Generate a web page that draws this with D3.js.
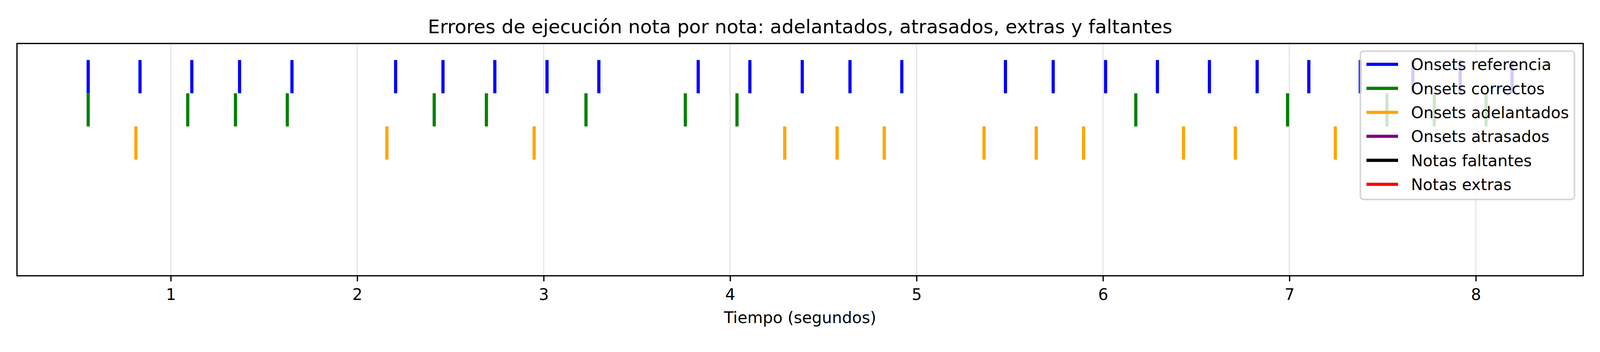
<!DOCTYPE html>
<html lang="es">
  <head>
    <meta charset="utf-8">
    <title>errores_onsets</title>
    <script src="https://d3js.org/d3.v7.min.js"></script>
    <style>
      html, body {margin:0; padding:0; background:white; overflow:hidden;}
      svg {display:block; width:100vw; height:auto;}
      svg text {font-family:"DejaVu Sans", sans-serif; fill:black;}
    </style>
  </head>
  <body>
    <script>
      // tiempos (segundos)
      const onsetsReferencia = [0.557, 0.835, 1.113, 1.369, 1.650, 2.206, 2.460, 2.738, 3.018, 3.296,
        3.829, 4.106, 4.387, 4.643, 4.921, 5.477, 5.733, 6.014, 6.292, 6.571,
        6.827, 7.104, 7.380, 7.662, 7.916, 8.194];
      const onsetsCorrectos = [0.557, 1.091, 1.347, 1.625, 2.413, 2.693, 3.227, 3.760, 4.037,
        6.176, 6.990, 7.523, 7.777, 8.055];
      const onsetsAdelantados = [0.813, 2.159, 2.949, 4.293, 4.574, 4.827, 5.362, 5.642, 5.896,
        6.432, 6.710, 7.246];
      const onsetsAtrasados = [];
      const notasFaltantes = [];
      const notasExtras = [];

      const seriesNames = ['Onsets referencia', 'Onsets correctos', 'Onsets adelantados',
        'Onsets atrasados', 'Notas faltantes', 'Notas extras'];
      const seriesColors = ['blue', 'green', 'orange', 'purple', 'black', 'red'];
      const rowOffsets = [5, 4, 3, 2, 1, 0];
      const xTicks = [1, 2, 3, 4, 5, 6, 7, 8];

      const titleText = 'Errores de ejecución nota por nota: adelantados, atrasados, extras y faltantes';
      const xLabelText = 'Tiempo (segundos)';

      const seriesData = [onsetsReferencia, onsetsCorrectos, onsetsAdelantados,
        onsetsAtrasados, notasFaltantes, notasExtras];

      const width = 4200;
      const height = 900;
      const pt = 300 / 72;
      const plot = {left: 44.6, right: 4156, top: 114, bottom: 723};

      const allTimes = seriesData.flat();
      const tMin = d3.min(allTimes), tMax = d3.max(allTimes);
      const pad = (tMax - tMin) * 0.05;

      const x = d3.scaleLinear()
        .domain([tMin - pad, tMax + pad])
        .range([plot.left, plot.right]);

      const y = d3.scaleLinear()
        .domain([-1, 6])
        .range([plot.bottom, plot.top]);

      // escala al ancho de la ventana, manteniendo la proporcion
      const svg = d3.select('body').append('svg')
        .attr('viewBox', `0 0 ${width} ${height}`)
        .attr('preserveAspectRatio', 'xMinYMin meet');

      // grid vertical
      svg.append('g')
        .selectAll('line').data(xTicks).enter().append('line')
        .attr('x1', d => x(d)).attr('x2', d => x(d))
        .attr('y1', plot.top).attr('y2', plot.bottom)
        .attr('stroke', '#b0b0b0').attr('stroke-opacity', 0.3)
        .attr('stroke-width', 0.8 * pt);

      // eventos
      const rows = seriesData.map((vals, i) => ({vals: vals, color: seriesColors[i], off: rowOffsets[i]}));
      const rowG = svg.append('g').selectAll('g').data(rows).enter().append('g')
        .attr('stroke', d => d.color);
      rowG.selectAll('line').data(d => d.vals.map(v => ({t: v, off: d.off}))).enter().append('line')
        .attr('x1', d => x(d.t)).attr('x2', d => x(d.t))
        .attr('y1', d => y(d.off + 0.5)).attr('y2', d => y(d.off - 0.5))
        .attr('stroke-width', 2 * pt);

      // eje x
      const xAxis = svg.append('g')
        .attr('transform', `translate(0, ${plot.bottom})`)
        .call(d3.axisBottom(x).tickValues(xTicks).tickFormat(d3.format('d'))
          .tickSize(3.5 * pt).tickSizeOuter(0));
      xAxis.select('.domain').remove();
      xAxis.selectAll('.tick line').attr('stroke', 'black').attr('stroke-width', 0.8 * pt);
      xAxis.selectAll('.tick text')
        .attr('y', 64).attr('dy', null)
        .style('font-size', (10 * pt) + 'px')
        .attr('fill', 'black');

      // marco
      svg.append('rect')
        .attr('x', plot.left).attr('y', plot.top)
        .attr('width', plot.right - plot.left).attr('height', plot.bottom - plot.top)
        .attr('fill', 'none').attr('stroke', 'black').attr('stroke-width', 0.8 * pt);

      svg.append('text')
        .attr('x', (plot.left + plot.right) / 2).attr('y', 87)
        .attr('text-anchor', 'middle')
        .style('font-size', (12 * pt) + 'px')
        .text(titleText);

      svg.append('text')
        .attr('x', (plot.left + plot.right) / 2).attr('y', 847)
        .attr('text-anchor', 'middle')
        .style('font-size', (10 * pt) + 'px')
        .text(xLabelText);

      // leyenda
      const leg = {x: 3571, y: 134, w: 562, h: 389, row0: 168.7, step: 62.9};
      const legG = svg.append('g');
      legG.append('rect')
        .attr('x', leg.x).attr('y', leg.y).attr('width', leg.w).attr('height', leg.h)
        .attr('rx', 8.3).attr('ry', 8.3)
        .attr('fill', 'white').attr('fill-opacity', 0.8)
        .attr('stroke', '#cccccc').attr('stroke-opacity', 0.8)
        .attr('stroke-width', 1 * pt);
      const items = legG.selectAll('g.item').data(seriesNames).enter().append('g')
        .attr('class', 'item')
        .attr('transform', (d, i) => `translate(0, ${leg.row0 + i * leg.step})`);
      items.append('line')
        .attr('x1', 3587).attr('x2', 3670).attr('y1', 0).attr('y2', 0)
        .attr('stroke', (d, i) => seriesColors[i])
        .attr('stroke-width', 2 * pt);
      items.append('text')
        .attr('x', 3704).attr('y', 15)
        .style('font-size', (10 * pt) + 'px')
        .text(d => d);
    </script>
  </body>
</html>
